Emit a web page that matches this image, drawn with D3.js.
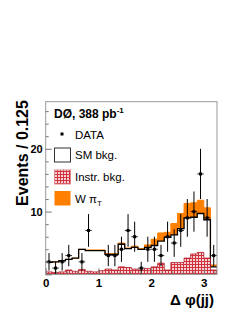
<!DOCTYPE html>
<html lang="en">
  <head>
    <meta charset="UTF-8" />
    <title>Delta phi(jj)</title>
    <style>
      body {
        margin: 0;
        background: #fff;
      }
      text {
        font-family: "Liberation Sans", Arial, sans-serif;
      }
    </style>
  </head>
  <body>
    <svg id="svg" width="247" height="319"></svg>
    <script src="https://cdn.jsdelivr.net/npm/d3@7"></script>
    <script>
      // CONSTANTS
      const WIDTH = 247;
      const HEIGHT = 319;
      const LEFT = 45.7;
      const RIGHT = 217;
      const TOP = 101.7;
      const BOTTOM = 274.4;
      const BIN_W = 0.125;

      // bin low edges in delta phi
      const binLow = [
        0, 0.125, 0.25, 0.375, 0.5, 0.625, 0.75, 0.875, 1, 1.125, 1.25, 1.375,
        1.5, 1.625, 1.75, 1.875, 2, 2.125, 2.25, 2.375, 2.5, 2.625, 2.75, 2.875,
        3, 3.125,
      ];
      // data counts
      const dataCounts = [
        2, 1, 2, 3, 0, 2, 7, 0, 0, 3, 3, 4, 7, 6, 1, 4, 4, 3, 6, 5, 7, 9, 10, 16,
        9, 3,
      ];
      const dataErr = [
        1.4, 1, 1.4, 1.7, 0, 1.4, 2.6, 0, 0, 1.7, 1.7, 2, 2.6, 2.4, 1, 2, 2, 1.7,
        2.4, 2.2, 2.6, 3, 3.2, 4, 3, 1.7,
      ];
      // SM background (total)
      const smBkg = [
        1.9, 2.0, 2.2, 2.4, 2.6, 4.0, 3.8, 3.8, 3.8, 3.2, 3.2, 4.8, 4.1, 4.3, 4.0,
        4.3, 4.6, 5.3, 5.9, 6.3, 7.3, 9.0, 9.1, 9.7, 8.7, 1.2,
      ];
      // instrumental background
      const instrBkg = [
        0.4, 0.3, 0.4, 0.7, 0.5, 0.8, 0.5, 0.4, 0.6, 0.85, 0.7, 1.2, 1.1, 0.85,
        0.7, 0.95, 1.2, 1.8, 0.7, 1.9, 1.9, 2.6, 3.25, 3.5, 2.6, 0.7,
      ];
      // W pi_T signal, stacked on SM bkg
      const signal = [
        0, 0, 0, 0, 0, 0, 0.1, 0.1, 0.1, 0.1, 0.1, 0.2, 0.1, 0.2, 0.1, 0.4, 1.0,
        1.3, 0.8, 1.8, 2.4, 2.3, 2.3, 2.1, 1.9, 0.3,
      ];
      const yMajor = [0, 10, 20];
      const yMinor = [2, 4, 6, 8, 12, 14, 16, 18, 22, 24, 26];
      const xMajor = [0, 1, 2, 3];
      const xMinor = [
        0.2, 0.4, 0.6, 0.8, 1.2, 1.4, 1.6, 1.8, 2.2, 2.4, 2.6, 2.8, 3.2,
      ];

      const svg = d3.select("#svg");
      const x = d3.scaleLinear().domain([0, 3.25]).range([LEFT, RIGHT]);
      const y = d3.scaleLinear().domain([0, 27.5]).range([BOTTOM, TOP]);

      // hatch pattern for instr. bkg. (red grid on pink)
      const defs = svg.append("defs");
      const pat = defs
        .append("pattern")
        .attr("id", "hatch")
        .attr("patternUnits", "userSpaceOnUse")
        .attr("width", 3)
        .attr("height", 3);
      pat.append("rect").attr("width", 3).attr("height", 3).attr("fill", "#f7d3d5");
      pat.append("rect").attr("width", 3).attr("height", 1).attr("fill", "#d0323e");
      pat.append("rect").attr("width", 1).attr("height", 3).attr("fill", "#d0323e");

      const bins = binLow.map((lo, i) => ({
        lo,
        hi: lo + BIN_W,
        n: dataCounts[i],
        err: dataErr[i],
        sm: smBkg[i],
        instr: instrBkg[i],
        tot: smBkg[i] + signal[i],
      }));

      // step path helper
      function stepLine(key) {
        let p = "";
        bins.forEach((b, i) => {
          p += (i === 0 ? "M" : "L") + x(b.lo) + "," + y(b[key]);
          p += "L" + x(b.hi) + "," + y(b[key]);
        });
        return p;
      }
      function stepArea(lowKey, highKey) {
        const area = d3
          .area()
          .curve(d3.curveStepAfter)
          .x((d) => x(d.x))
          .y0((d) => y(d.lo))
          .y1((d) => y(d.hi));
        const pts = bins.map((b) => ({
          x: b.lo,
          lo: lowKey ? b[lowKey] : 0,
          hi: b[highKey],
        }));
        const last = bins[bins.length - 1];
        pts.push({ x: last.hi, lo: lowKey ? last[lowKey] : 0, hi: last[highKey] });
        return area(pts);
      }

      const plot = svg.append("g");

      // W pi_T band
      plot
        .append("path")
        .attr("d", stepArea("sm", "tot"))
        .attr("fill", "#ff7f00");
      plot
        .append("path")
        .attr("d", stepLine("tot"))
        .attr("fill", "none")
        .attr("stroke", "#ff7f00")
        .attr("stroke-width", 1);

      // SM bkg line
      plot
        .append("path")
        .attr("d", stepLine("sm"))
        .attr("fill", "none")
        .attr("stroke", "#000")
        .attr("stroke-width", 1.3);

      // instr bkg
      plot
        .append("path")
        .attr("d", stepArea(null, "instr"))
        .attr("fill", "url(#hatch)");
      plot
        .append("path")
        .attr("d", stepLine("instr"))
        .attr("fill", "none")
        .attr("stroke", "#b3202c")
        .attr("stroke-width", 0.8);

      // data points
      const pts = plot
        .selectAll("g.pt")
        .data(bins.filter((b) => b.n > 0))
        .enter()
        .append("g")
        .attr("class", "pt");
      pts
        .append("line")
        .attr("x1", (d) => x(d.lo + BIN_W / 2))
        .attr("x2", (d) => x(d.lo + BIN_W / 2))
        .attr("y1", (d) => y(d.n - d.err))
        .attr("y2", (d) => y(d.n + d.err))
        .attr("stroke", "#000")
        .attr("stroke-width", 1);
      pts
        .append("line")
        .attr("x1", (d) => x(d.lo))
        .attr("x2", (d) => x(d.hi))
        .attr("y1", (d) => y(d.n))
        .attr("y2", (d) => y(d.n))
        .attr("stroke", "#000")
        .attr("stroke-width", 0.8);
      pts
        .append("rect")
        .attr("x", (d) => x(d.lo + BIN_W / 2) - 1.5)
        .attr("y", (d) => y(d.n) - 1.5)
        .attr("width", 3)
        .attr("height", 3)
        .attr("fill", "#000");

      // frame
      svg
        .append("rect")
        .attr("x", LEFT)
        .attr("y", TOP)
        .attr("width", RIGHT - LEFT)
        .attr("height", BOTTOM - TOP)
        .attr("fill", "none")
        .attr("stroke", "#999")
        .attr("stroke-width", 1);

      // y axis
      const yAxis = svg.append("g").attr("transform", `translate(${LEFT},0)`);
      yAxis
        .call(
          d3
            .axisLeft(y)
            .tickValues(yMajor)
            .tickSizeInner(-6)
            .tickSizeOuter(0)
            .tickPadding(3)
            .tickFormat((d) => (d === 0 ? "" : d))
        )
        .call((g) => g.select(".domain").remove());
      yAxis
        .append("g")
        .call(d3.axisLeft(y).tickValues(yMinor).tickSizeInner(-3).tickSizeOuter(0).tickFormat(""))
        .call((g) => g.select(".domain").remove());
      yAxis.selectAll("line").attr("stroke", "#777");
      yAxis
        .selectAll("text")
        .style("font-size", "11px")
        .style("font-weight", "bold")
        .attr("fill", "#000");

      // x axis
      const xAxis = svg.append("g").attr("transform", `translate(0,${BOTTOM})`);
      xAxis
        .call(
          d3
            .axisBottom(x)
            .tickValues(xMajor)
            .tickSizeInner(-6)
            .tickSizeOuter(0)
            .tickPadding(4)
            .tickFormat(d3.format("d"))
        )
        .call((g) => g.select(".domain").remove());
      xAxis
        .append("g")
        .call(d3.axisBottom(x).tickValues(xMinor).tickSizeInner(-3).tickSizeOuter(0).tickFormat(""))
        .call((g) => g.select(".domain").remove());
      xAxis.selectAll("line").attr("stroke", "#777");
      xAxis
        .selectAll("text")
        .style("font-size", "11.5px")
        .style("font-weight", "bold")
        .attr("fill", "#000");

      // axis titles
      svg
        .append("text")
        .attr("transform", `translate(28,153) rotate(-90)`)
        .attr("text-anchor", "middle")
        .style("font-size", "16px")
        .style("font-weight", "bold")
        .text("Events / 0.125");
      svg
        .append("text")
        .attr("x", 214)
        .attr("y", 305)
        .attr("text-anchor", "end")
        .style("font-size", "15px")
        .style("font-weight", "bold")
        .text("Δ φ(jj)");

      // legend
      const leg = svg.append("g");
      const head = leg
        .append("text")
        .attr("x", 54)
        .attr("y", 118)
        .style("font-size", "12px")
        .style("font-weight", "bold");
      head.append("tspan").text("DØ, 388 pb");
      head.append("tspan").attr("dy", -5).style("font-size", "8px").text("-1");

      leg
        .append("rect")
        .attr("x", 60.5)
        .attr("y", 132.5)
        .attr("width", 3)
        .attr("height", 3)
        .attr("fill", "#000");
      leg
        .append("text")
        .attr("x", 75)
        .attr("y", 138.5)
        .style("font-size", "11.5px")
        .text("DATA");

      leg
        .append("rect")
        .attr("x", 54.5)
        .attr("y", 148)
        .attr("width", 16)
        .attr("height", 14)
        .attr("fill", "#fff")
        .attr("stroke", "#333")
        .attr("stroke-width", 1);
      leg
        .append("text")
        .attr("x", 75)
        .attr("y", 159)
        .style("font-size", "11.5px")
        .text("SM bkg.");

      leg
        .append("rect")
        .attr("x", 54.5)
        .attr("y", 170)
        .attr("width", 16)
        .attr("height", 14)
        .attr("fill", "url(#hatch)")
        .attr("stroke", "#e08890")
        .attr("stroke-width", 1);
      leg
        .append("text")
        .attr("x", 75)
        .attr("y", 181)
        .style("font-size", "11.5px")
        .text("Instr. bkg.");

      leg
        .append("rect")
        .attr("x", 54.5)
        .attr("y", 191)
        .attr("width", 16)
        .attr("height", 14.5)
        .attr("fill", "#ff7f00");
      const wl = leg
        .append("text")
        .attr("x", 75)
        .attr("y", 202.5)
        .style("font-size", "11.5px");
      wl.append("tspan").text("W π");
      wl.append("tspan").attr("dy", 3).style("font-size", "8px").text("T");
    </script>
  </body>
</html>
